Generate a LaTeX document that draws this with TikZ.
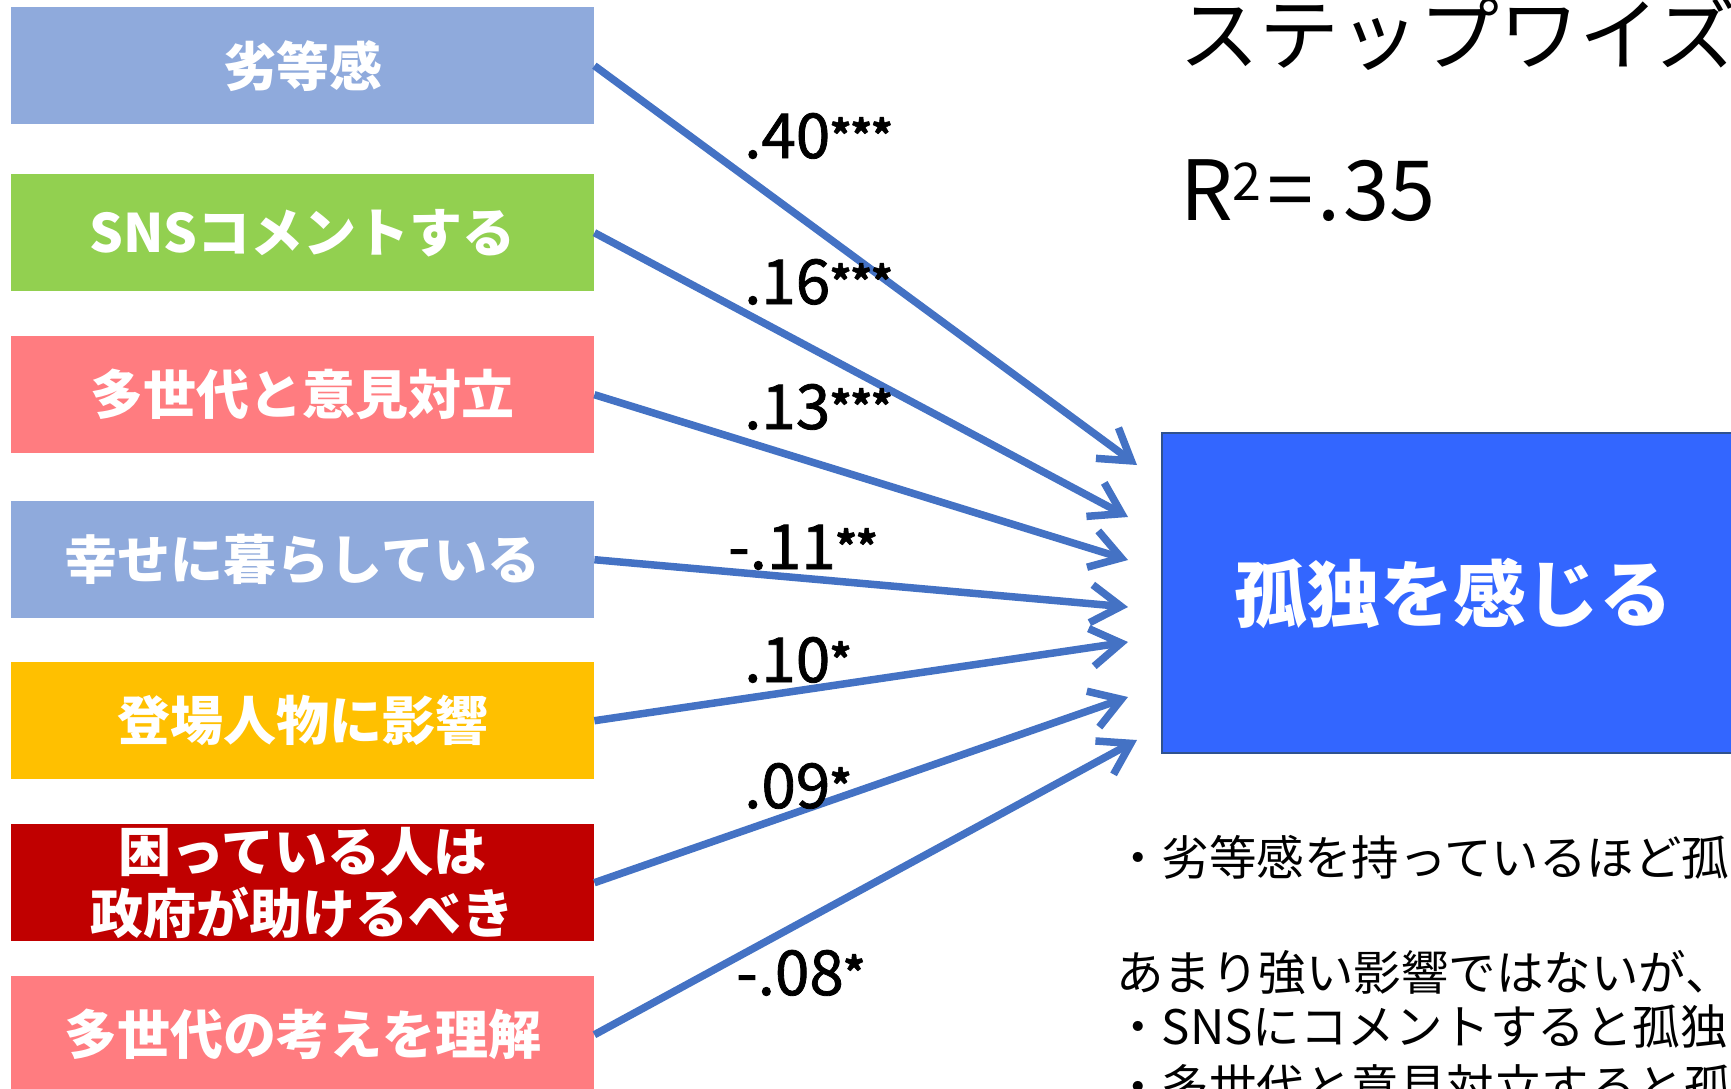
\documentclass[tikz,border=0pt]{standalone}
\usepackage{fontspec}
\setmainfont{Noto Sans CJK JP}
\newfontfamily\coeffont[FakeBold=1.3]{Noto Sans CJK JP}
\usetikzlibrary{arrows.meta}

\definecolor{boxblue}{RGB}{143,170,220}
\definecolor{boxgreen}{RGB}{146,208,80}
\definecolor{boxpink}{RGB}{255,124,128}
\definecolor{boxorange}{RGB}{255,192,0}
\definecolor{boxred}{RGB}{192,0,0}
\definecolor{arrowblue}{RGB}{68,114,196}
\definecolor{targetblue}{RGB}{51,102,255}
\definecolor{targetedge}{RGB}{47,82,143}

\newcommand{\sigmark}[1]{\raisebox{9pt}{\fontsize{39}{39}\selectfont\bfseries #1}}

\tikzset{
  factor/.style={anchor=north west, minimum width=583pt, minimum height=117pt, inner sep=0pt,
    text=white, align=center, font=\fontsize{53}{62}\selectfont\bfseries},
  pathline/.style={draw=arrowblue, line width=7.5pt, -{Straight Barb[length=30pt,width=38pt]}},
  coef/.style={anchor=base west, inner sep=0pt, font=\fontsize{62}{62}\coeffont},
  note/.style={anchor=base west, inner sep=0pt, font=\fontsize{47.5}{47.5}\selectfont},
}

\begin{document}
\begin{tikzpicture}[x=1pt,y=1pt,yscale=-1,xscale=1]
\useasboundingbox[fill=white] (0,0) rectangle (1731,1088);

%Shape: Rectangle (explanatory variables)
\node[factor, fill=boxblue] (f1) at (11,7) {劣等感};
\node[factor, fill=boxgreen] (f2) at (11,174) {SNSコメントする};
\node[factor, fill=boxpink] (f3) at (11,336) {多世代と意見対立};
\node[factor, fill=boxblue] (f4) at (11,501) {幸せに暮らしている};
\node[factor, fill=boxorange] (f5) at (11,662) {登場人物に影響};
\node[factor, fill=boxred] (f6) at (11,824) {困っている人は\\政府が助けるべき};
\node[factor, fill=boxpink] (f7) at (11,976) {多世代の考えを理解};

%Shape: Rectangle (outcome)
\node[draw=targetedge, line width=2pt, fill=targetblue, minimum width=582pt, minimum height=320pt,
  text=white, font=\fontsize{73}{73}\selectfont\bfseries] (lonely) at (1453,593) {孤独を感じる};

%Arrow heads
\coordinate (t1) at (1137,465);
\coordinate (t2) at (1128,517);
\coordinate (t3) at (1128,560);
\coordinate (t4) at (1128,607);
\coordinate (t5) at (1128,642);
\coordinate (t6) at (1128,697);
\coordinate (t7) at (1137,740);

%Straight Lines
\draw[pathline] (f1.east) -- (t1);
\draw[pathline] (f2.east) -- (t2);
\draw[pathline] (f3.east) -- (t3);
\draw[pathline] (f4.east) -- (t4);
\draw[pathline] (f5.east) -- (t5);
\draw[pathline] (f6.east) -- (t6);
\draw[pathline] (f7.east) -- (t7);

% Text Node
\node[coef] (c1) at (744,158) {.40\sigmark{***}};
% Text Node
\node[coef] (c2) at (744,304) {.16\sigmark{***}};
% Text Node
\node[coef] (c3) at (744,429) {.13\sigmark{***}};
% Text Node
\node[coef] (c4) at (728,569) {-.11\sigmark{**}};
% Text Node
\node[coef] (c5) at (744,682) {.10\sigmark{*}};
% Text Node
\node[coef] (c6) at (744,808) {.09\sigmark{*}};
% Text Node
\node[coef] (c7) at (736,995) {-.08\sigmark{*}};

% Text Node
\node[anchor=base west, inner sep=0pt, font=\fontsize{80}{80}\selectfont] (title) at (1179,64) {ステップワイズ};
% Text Node
\node[anchor=base west, inner sep=0pt, font=\fontsize{83}{83}\selectfont] (rsq) at (1180,220)
  {R\raisebox{20pt}{\fontsize{52}{52}\selectfont 2}\kern6pt=\kern4pt.\kern3pt35};

% Text Node
\node[note] (n1) at (1114,875) {・劣等感を持っているほど孤};
% Text Node
\node[note] (n2) at (1116,990) {あまり強い影響ではないが、};
% Text Node
\node[note] (n3) at (1114,1044) {・SNSにコメントすると孤独を};
% Text Node
\node[note] (n4) at (1114,1104) {・多世代と意見対立すると孤};

\end{tikzpicture}
\end{document}
